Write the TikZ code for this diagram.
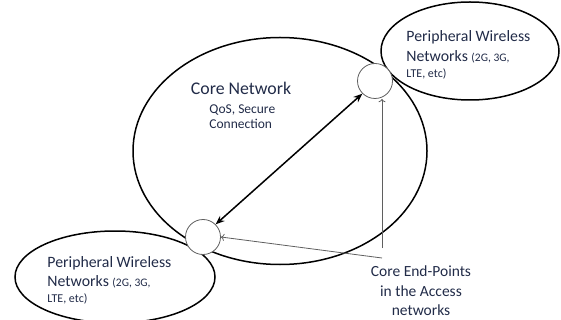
\documentclass[tikz,border=0pt]{standalone}
\usepackage{fontspec}
\setmainfont{Carlito}
\usepackage{tikz}
\usetikzlibrary{shapes.geometric,arrows.meta}
\definecolor{txtblue}{RGB}{33,43,72}
\definecolor{epgray}{RGB}{95,95,95}

\begin{document}
\begin{tikzpicture}[x=1pt,y=-1pt,line width=0.3mm,
    netell/.style={draw=black,ellipse,line width=1.5pt,inner sep=0pt},
    endpt/.style={draw=epgray,circle,line width=0.8pt,minimum size=35pt,inner sep=0pt,fill=white},
    lbl/.style={text=txtblue,align=left,inner sep=0pt}]
        \useasboundingbox (0,0) rectangle (561,320);

        \node[netell, minimum width=294pt, minimum height=227pt] (core) at (280,151) {};
        \node[netell, minimum width=178pt, minimum height=98pt] (pnA) at (470,51) {};
        \node[netell, minimum width=200pt, minimum height=92pt] (pnB) at (115,277) {};

        \node[endpt] (epA) at (375,81) {};
        \node[endpt] (epB) at (203,237) {};

        \node[lbl, font=\fontsize{17.8}{19}\selectfont] (corename) at (241,88) {Core Network};
        \node[lbl, font=\fontsize{13.5}{15.5}\selectfont, anchor=north west] (qos) at (209,104) {QoS, Secure\\Connection};

        \node[lbl, anchor=north west, font=\fontsize{15.8}{20}\selectfont] (pnAtxt) at (406,30)
            {Peripheral Wireless\\Networks {\fontsize{11.5}{14}\selectfont(2G, 3G,}\\[-4pt]{\fontsize{12}{14}\selectfont LTE, etc)}};
        \node[lbl, anchor=north west, font=\fontsize{15.8}{19}\selectfont] (pnBtxt) at (47,256)
            {Peripheral Wireless\\Networks {\fontsize{11.5}{14}\selectfont(2G, 3G,}\\[-3pt]{\fontsize{12}{14}\selectfont LTE, etc)}};

        \node[lbl, align=center, font=\fontsize{15.5}{19.5}\selectfont] (cep) at (421,291)
            {Core End-Points\\in the Access\\networks};
        \coordinate (cepA) at (382,248);
        \coordinate (cepB) at (382,258);

        \draw[{Stealth[length=9pt,width=7pt]}-{Stealth[length=9pt,width=7pt]}, line width=1.5pt]
            (epA.south west) -- (epB.north east);
        \draw[->, draw=epgray, line width=0.8pt] (cepA) -- (cepA |- epA.south);
        \draw[->, draw=epgray, line width=0.8pt] (cepB) -- (epB.east);
      \end{tikzpicture}
\end{document}
